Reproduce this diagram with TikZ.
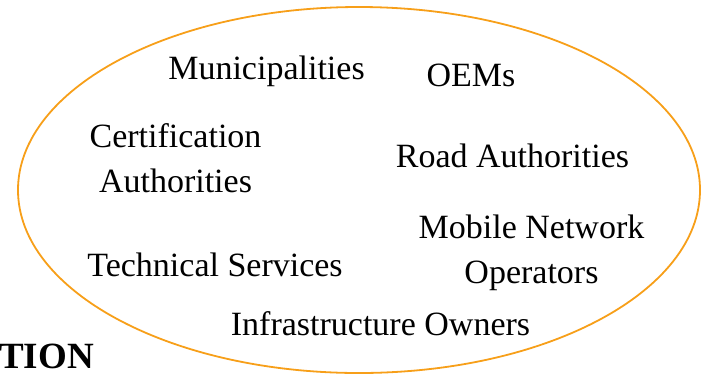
\documentclass[tikz,border=0pt]{standalone}
\usepackage{fontspec}
\setmainfont{Liberation Serif}
\definecolor{ringorange}{RGB}{247,159,25}
\begin{document}
\begin{tikzpicture}[x=1pt,y=-1pt,
  lbl/.style={inner sep=0pt, anchor=base, align=center, font=\fontsize{34}{45}\selectfont},
  ring/.style={draw=ringorange, line width=1.8pt}]
\useasboundingbox (0,0) rectangle (703,373);
\begin{scope}
\clip (0,0) rectangle (703,373);
\draw[ring] (359,190) ellipse [x radius=341, y radius=183];
\node[lbl] (mun) at (266.5,79) {Municipalities};
\node[lbl] (oem) at (471,86) {OEMs};
\node[lbl] (cert) at (175.5,192) {Certification\\Authorities};
\node[lbl] (road) at (512.5,167) {Road Authorities};
\node[lbl] (mno) at (531.5,283) {Mobile Network\\Operators};
\node[lbl] (tech) at (215,276) {Technical Services};
\node[lbl] (infra) at (380.5,335) {Infrastructure Owners};
\node[lbl, anchor=base west, font=\fontsize{37}{40}\selectfont\bfseries] (tion) at (-1,368) {TION};
\end{scope}
\end{tikzpicture}
\end{document}
